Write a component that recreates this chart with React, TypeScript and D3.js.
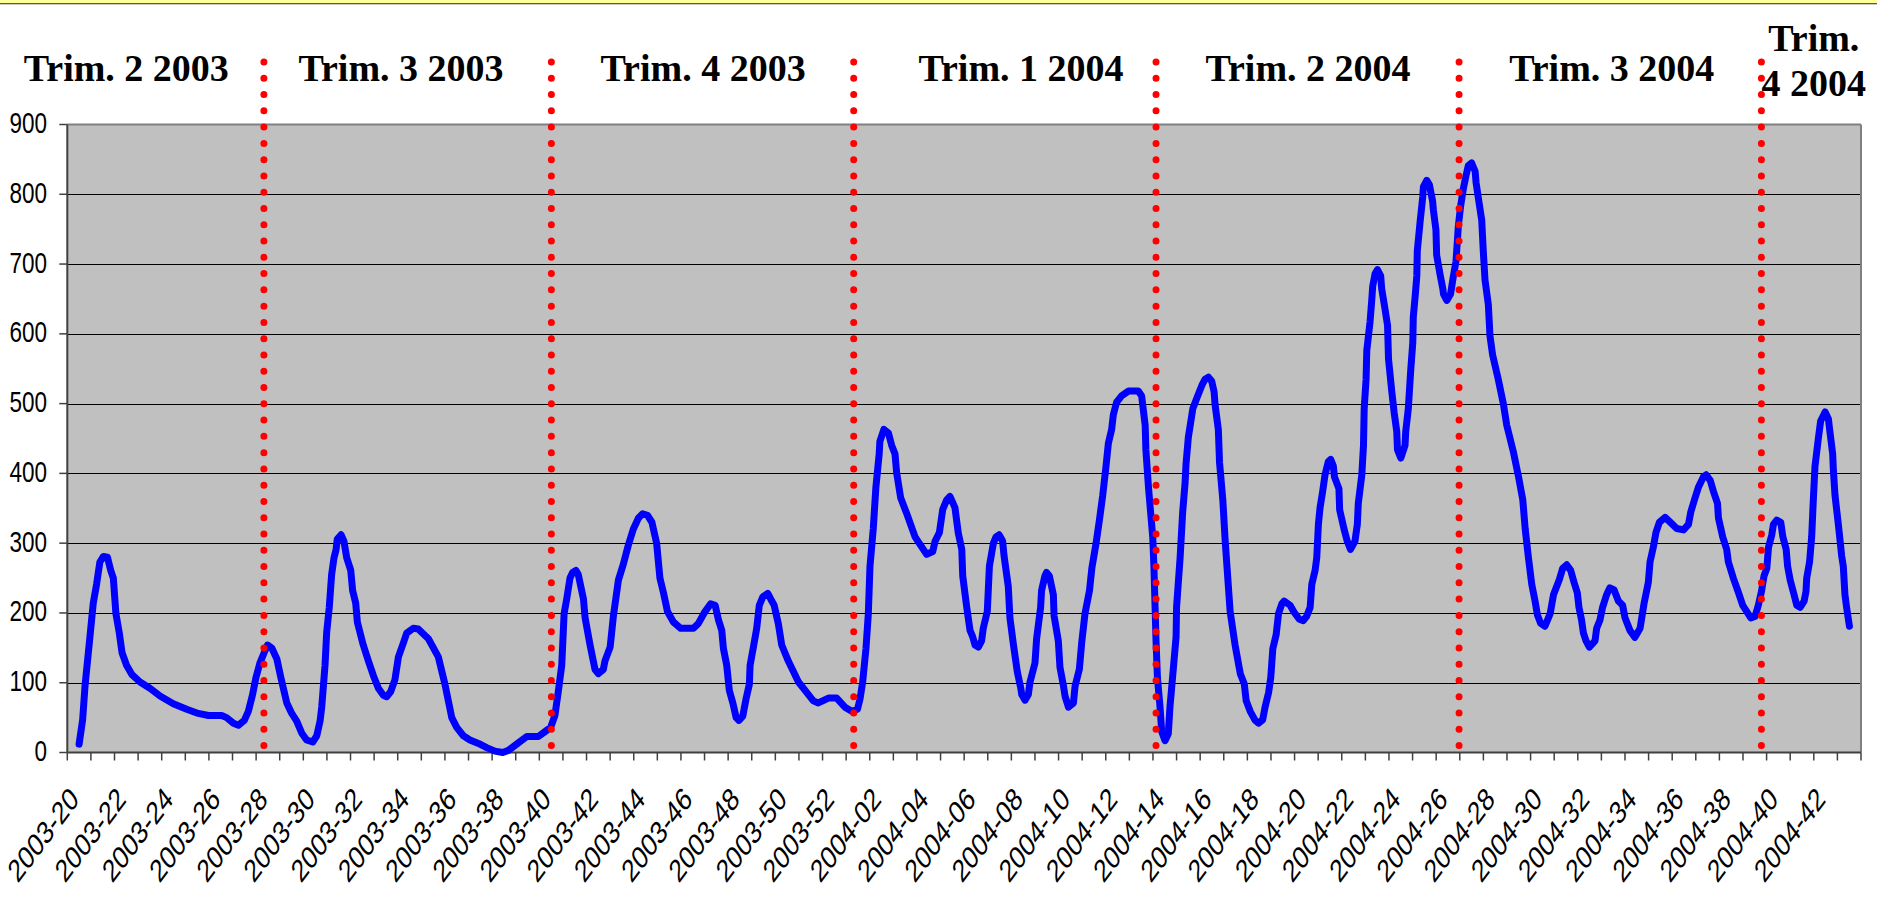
import React from "react";
import * as d3 from "d3";

const W = 1877;
const H = 910;

// Category axis: ISO weeks 2003-20 .. 2004-43
const weeks2003 = d3.range(20, 53).map((w) => `2003-${String(w).padStart(2, "0")}`);
const weeks2004 = d3.range(1, 44).map((w) => `2004-${String(w).padStart(2, "0")}`);
const categories = [...weeks2003, ...weeks2004];

const yTicks = [0, 100, 200, 300, 400, 500, 600, 700, 800, 900];

// Quarter separators (position in category units from the left edge)
const quarterBounds = [8.33, 20.51, 33.32, 46.13, 58.97, 71.78];
const quarterLabels = [
  { lines: ["Trim. 2 2003"], pos: 2.5 },
  { lines: ["Trim. 3 2003"], pos: 14.14 },
  { lines: ["Trim. 4 2003"], pos: 26.94 },
  { lines: ["Trim. 1 2004"], pos: 40.41 },
  { lines: ["Trim. 2 2004"], pos: 52.57 },
  { lines: ["Trim. 3 2004"], pos: 65.44 },
  { lines: ["Trim.", "4 2004"], pos: 74.0 },
];

// Series: position (category units) and value
const linePos = [
  0.5, 0.65, 0.75, 0.96, 1.1, 1.24, 1.38, 1.53, 1.7, 1.84, 1.95, 2.06, 2.2, 2.32, 2.51, 2.73, 3.08, 3.5, 3.93, 4.49,
  5.06, 5.55, 5.98, 6.54, 6.75, 7.04, 7.25, 7.5, 7.67, 7.85, 7.99, 8.16, 8.34, 8.48, 8.66, 8.88, 9.05, 9.3, 9.51, 9.72,
  9.93, 10.14, 10.4, 10.57, 10.71, 10.78, 10.92, 10.99, 11.1, 11.2, 11.3, 11.39, 11.44, 11.6, 11.72, 11.84, 12.01, 12.09,
  12.22, 12.29, 12.54, 12.76, 12.97, 13.18, 13.39, 13.53, 13.7, 13.88, 14.03, 14.24, 14.38, 14.66, 14.87,
  15.3, 15.72, 16.0, 16.29, 16.5, 16.78, 17.06, 17.42, 17.77, 18.12, 18.45, 18.69, 19.04, 19.47, 19.96, 20.24, 20.48,
  20.66, 20.81, 20.95, 21.05, 21.16, 21.3, 21.41, 21.55, 21.65, 21.87, 21.94, 22.15, 22.36, 22.5, 22.71, 22.78, 23.0,
  23.14, 23.35, 23.56, 23.77, 23.98, 24.2, 24.38, 24.58, 24.77, 24.97, 25.11, 25.26, 25.43, 25.68, 25.99, 26.53, 26.74,
  27.02, 27.26, 27.45, 27.59, 27.73, 27.8, 27.94, 28.05, 28.2, 28.34, 28.46, 28.62, 28.76, 28.9, 28.93, 29.07, 29.21,
  29.32, 29.47, 29.68, 29.85, 29.95, 30.13,
  30.27, 30.55, 30.98, 31.26, 31.61, 31.82, 32.25, 32.6, 32.95, 33.24, 33.48, 33.59, 33.7, 33.84, 33.94, 34.01, 34.15,
  34.26, 34.4, 34.43, 34.6, 34.79, 34.93, 35.07, 35.14, 35.31, 35.57, 35.92, 36.27, 36.41, 36.67, 36.77, 36.95, 37.09,
  37.26, 37.4, 37.61, 37.75, 37.9, 37.94, 38.11, 38.25, 38.36, 38.46, 38.6, 38.74, 38.81, 38.98, 39.07, 39.24, 39.35,
  39.48, 39.63, 39.69, 39.87, 39.94, 40.09, 40.25, 40.4, 40.44, 40.58, 40.72, 40.79, 41.0, 41.07, 41.24, 41.28, 41.42,
  41.49, 41.61, 41.78, 41.81, 41.99, 42.06, 42.21, 42.28, 42.42, 42.63, 42.7, 42.88, 42.98, 43.12, 43.31, 43.41, 43.59,
  43.73, 43.87, 44.01, 44.11, 44.25, 44.32, 44.46, 44.67, 44.96, 45.38,
  45.52, 45.67, 45.7, 45.81, 45.99, 46.04, 46.09, 46.13, 46.19, 46.3, 46.37, 46.51, 46.65, 46.72, 46.86, 46.98, 47.0,
  47.15, 47.26, 47.36, 47.4, 47.5, 47.69, 47.86, 48.07, 48.21, 48.35, 48.49, 48.59, 48.63, 48.77, 48.82, 48.96, 49.06,
  49.27, 49.48, 49.7, 49.87, 49.95, 50.12, 50.33, 50.47, 50.65, 50.75, 50.9, 50.99, 51.08, 51.22, 51.32, 51.46, 51.56,
  51.81, 51.98, 52.2, 52.37, 52.51, 52.66, 52.73, 52.87, 52.94, 53.01, 53.08, 53.19, 53.29, 53.43, 53.53, 53.64, 53.69,
  53.88, 53.91, 54.09, 54.23, 54.37, 54.56, 54.66, 54.7, 54.85, 54.92, 54.95, 55.03, 55.06, 55.2, 55.27, 55.31, 55.41,
  55.51, 55.65, 55.69, 55.83, 55.94, 55.98, 56.12, 56.22, 56.33, 56.36, 56.5, 56.68, 56.71, 56.82, 56.92, 57.01, 57.03,
  57.11, 57.18, 57.2, 57.32, 57.43, 57.46, 57.6, 57.71, 57.85, 57.88, 57.99, 58.02, 58.16, 58.28, 58.31, 58.45, 58.61,
  58.73, 58.84, 58.94, 59.04, 59.15, 59.26, 59.36, 59.5, 59.65, 59.69, 59.78, 59.93, 60.0, 60.07, 60.21, 60.28, 60.39,
  60.63,
  60.85, 60.99, 61.27, 61.49, 61.67, 61.77, 61.91, 62.05, 62.19, 62.29, 62.43, 62.61, 62.83, 62.97, 63.22, 63.36, 63.53,
  63.7, 63.84, 63.98, 64.05, 64.16, 64.24, 64.35, 64.49, 64.73, 64.8, 64.94, 65.05, 65.22, 65.36, 65.54, 65.72, 65.9,
  66.0, 66.21, 66.42, 66.64, 66.81, 66.99, 67.06, 67.2, 67.31, 67.46, 67.7, 67.98, 68.19, 68.48, 68.69, 68.79, 68.97,
  69.11, 69.32, 69.44, 69.61, 69.75, 69.92, 69.96, 70.14, 70.31, 70.38, 70.59, 70.81, 70.99, 71.16, 71.33, 71.51, 71.65,
  71.79, 71.89, 72.01, 72.08, 72.22, 72.29, 72.43, 72.6, 72.69, 72.83, 72.89, 73.0, 73.14, 73.28, 73.42, 73.59, 73.67,
  73.7, 73.82, 73.91, 73.98, 74.05, 74.2, 74.29, 74.48, 74.62, 74.66, 74.8, 74.83, 74.9, 75.04, 75.18, 75.25, 75.32,
  75.39, 75.51,
];
const lineVal = [
  12, 47, 95, 166, 214, 241, 273, 281, 280, 261, 250, 199, 172, 143, 125, 112, 101, 92, 81, 70,
  62, 56, 53, 53, 50, 42, 39, 46, 59, 83, 107, 128, 143, 154, 150, 134, 107, 71, 56, 45,
  28, 18, 15, 24, 45, 65, 125, 172, 208, 255, 279, 291, 306, 312, 303, 279, 261, 232,
  214, 187, 154, 131, 110, 92, 82, 80, 87, 104, 137, 157, 171, 178, 177,
  163, 137, 98, 50, 36, 24, 18, 13, 7, 2, 0, 3, 12, 23, 23, 30, 36,
  53, 89, 125, 199, 220, 250, 258, 261, 255, 220, 193, 154, 119, 113, 119, 131, 151,
  196, 247, 270, 297, 320, 336, 342, 340, 330, 300, 250, 229, 202, 187, 178, 178, 185,
  202, 213, 211, 190, 175, 149, 125, 89, 71, 50, 46, 52, 77, 98, 125, 151, 178,
  211, 223, 228, 217, 211, 184,
  154, 131, 101, 89, 74, 71, 78, 78, 65, 59, 62, 77, 101, 149, 199, 267, 321,
  380, 428, 446, 463, 458, 440, 428, 401, 365, 342, 309, 291, 284, 288, 303, 315, 348,
  362, 367, 351, 315, 291, 253, 208, 175, 166, 154, 151, 160, 178, 202, 267, 300, 309,
  312, 303, 282, 238, 193, 154, 116, 92, 83, 75, 83, 101, 128, 163, 208, 232, 253,
  258, 253, 226, 196, 160, 122, 95, 80, 65, 71, 95, 119, 157, 199, 232, 264, 300,
  333, 368, 410, 443, 463, 484, 502, 511, 518, 518,
  511, 469, 434, 380, 309, 267, 208, 160, 107, 65, 30, 17, 27, 65, 119, 166, 208,
  279, 345, 386, 413, 452, 493, 508, 526, 535, 538, 532, 517, 499, 463, 416, 362, 303,
  202, 154, 113, 98, 74, 59, 46, 42, 47, 65, 86, 107, 149, 169, 199, 213, 217,
  211, 201, 191, 189, 195, 208, 241, 261, 279, 327, 351, 374, 398, 417, 420, 411, 395,
  378, 348, 321, 303, 291, 303, 327, 357, 398, 440, 493, 535, 576, 618, 648, 668, 686,
  692, 683, 665, 636, 612, 564, 517, 487, 460, 434, 422, 440, 460, 493, 547, 588, 624,
  654, 683, 719, 761, 796, 811, 820, 814, 790, 778, 749, 713, 686, 665, 657, 648, 657,
  683, 704, 755, 784, 808, 826, 841, 845, 833, 817, 796, 763, 716, 677, 642, 597, 570,
  535,
  499, 469, 431, 395, 362, 321, 279, 241, 217, 197, 185, 181, 199, 226, 248, 264, 269,
  261, 244, 229, 208, 190, 171, 160, 151, 160, 178, 190, 208, 226, 236, 233, 217, 211,
  193, 175, 165, 178, 214, 244, 273, 294, 315, 330, 337, 328, 321, 319, 327, 345, 365,
  380, 395, 398, 390, 374, 357, 336, 309, 291, 273, 250, 229, 211, 202, 193, 195, 211,
  232, 253, 264, 294, 312, 327, 333, 330, 309, 291, 267, 247, 229, 211, 208, 217, 231,
  250, 273, 309, 362, 410, 452, 475, 488, 478, 466, 428, 404, 368, 327, 282, 267, 226,
  208, 181,
];

const PLOT = { left: 67.3, right: 1861, top: 124.5, bottom: 752.5 };

export default function App() {
  const x = d3.scaleLinear().domain([0, categories.length]).range([PLOT.left, PLOT.right]);
  const xb = d3.scaleBand().domain(categories).range([PLOT.left, PLOT.right]).paddingInner(0).paddingOuter(0);
  const y = d3.scaleLinear().domain([0, 900]).range([PLOT.bottom, PLOT.top]);

  const pts: [number, number][] = linePos.map((p, i) => [p, lineVal[i]]);
  const line = d3
    .line<[number, number]>()
    .x((d) => x(d[0]))
    .y((d) => y(d[1]))
    .curve(d3.curveLinear);

  const axisFont = "'Liberation Sans', Arial, sans-serif";
  const titleFont = "'Liberation Serif', 'Times New Roman', serif";

  const dotTop = 62;
  const dotBottom = 745.6;
  const dotGap = (dotBottom - dotTop) / 42;

  return (
    <div style={{ position: "absolute", left: 0, top: 0, width: W, height: H, background: "#fff" }}>
      <svg width={W} height={H} viewBox={`0 0 ${W} ${H}`} style={{ display: "block" }}>
        {/* top frame band */}
        <rect x={0} y={0} width={W} height={3} fill="#ffff99" />
        <line x1={0} x2={W} y1={3.5} y2={3.5} stroke="#5a5a5a" strokeWidth={1} />
        <line x1={0} x2={W} y1={4.5} y2={4.5} stroke="#c8c8c8" strokeWidth={1} />

        {/* plot area */}
        <rect
          x={PLOT.left}
          y={PLOT.top}
          width={PLOT.right - PLOT.left}
          height={PLOT.bottom - PLOT.top}
          fill="#c0c0c0"
        />
        {yTicks
          .filter((t) => t > 0 && t < 900)
          .map((t) => (
            <line
              key={`g${t}`}
              x1={PLOT.left}
              x2={PLOT.right}
              y1={Math.round(y(t)) + 0.5}
              y2={Math.round(y(t)) + 0.5}
              stroke="#000"
              strokeWidth={1}
            />
          ))}
        {/* border top & right */}
        <line x1={PLOT.left} x2={PLOT.right} y1={PLOT.top} y2={PLOT.top} stroke="#808080" strokeWidth={2} />
        <line x1={PLOT.right} x2={PLOT.right} y1={PLOT.top} y2={PLOT.bottom} stroke="#808080" strokeWidth={2} />

        {/* y axis */}
        <line x1={PLOT.left} x2={PLOT.left} y1={PLOT.top} y2={PLOT.bottom} stroke="#404040" strokeWidth={2} />
        {yTicks.map((t) => (
          <g key={`yt${t}`}>
            <line x1={PLOT.left - 8} x2={PLOT.left} y1={y(t)} y2={y(t)} stroke="#404040" strokeWidth={1.5} />
            <text
              transform={`translate(47, ${y(t) + 8.5}) scale(0.75, 1)`}
              textAnchor="end"
              fontFamily={axisFont}
              fontSize={30}
              fill="#000"
            >
              {t}
            </text>
          </g>
        ))}

        {/* x axis */}
        <line x1={PLOT.left} x2={PLOT.right} y1={PLOT.bottom} y2={PLOT.bottom} stroke="#404040" strokeWidth={2} />
        {d3.range(categories.length + 1).map((k) => (
          <line
            key={`xt${k}`}
            x1={x(k)}
            x2={x(k)}
            y1={PLOT.bottom}
            y2={PLOT.bottom + 8}
            stroke="#404040"
            strokeWidth={1.5}
          />
        ))}
        {categories.map((c, i) =>
          i % 2 === 0 ? (
            <text
              key={`xl${c}`}
              transform={`translate(${(xb(c) as number) + xb.bandwidth() / 2 + 1}, 801) scale(0.75, 1) rotate(-45)`}
              textAnchor="end"
              fontFamily={axisFont}
              fontSize={32}
              fill="#000"
            >
              {c}
            </text>
          ) : null
        )}

        {/* series */}
        <path
          d={line(pts) || ""}
          fill="none"
          stroke="#0000ff"
          strokeWidth={7}
          strokeLinejoin="round"
          strokeLinecap="round"
        />

        {/* quarter separators */}
        {quarterBounds.map((q, i) => (
          <line
            key={`q${i}`}
            x1={x(q)}
            x2={x(q)}
            y1={dotTop}
            y2={dotBottom + 0.01}
            stroke="#ff0000"
            strokeWidth={7}
            strokeLinecap="round"
            strokeDasharray={`0 ${dotGap}`}
          />
        ))}

        {/* quarter labels */}
        {quarterLabels.map((q, i) => (
          <text
            key={`ql${i}`}
            x={x(q.pos)}
            y={q.lines.length === 1 ? 81 : 50.7}
            textAnchor="middle"
            fontFamily={titleFont}
            fontWeight="bold"
            fontSize={38}
            fill="#000"
          >
            {q.lines.map((l, j) => (
              <tspan key={j} x={x(q.pos)} dy={j === 0 ? 0 : 45.3}>
                {l}
              </tspan>
            ))}
          </text>
        ))}
      </svg>
    </div>
  );
}
